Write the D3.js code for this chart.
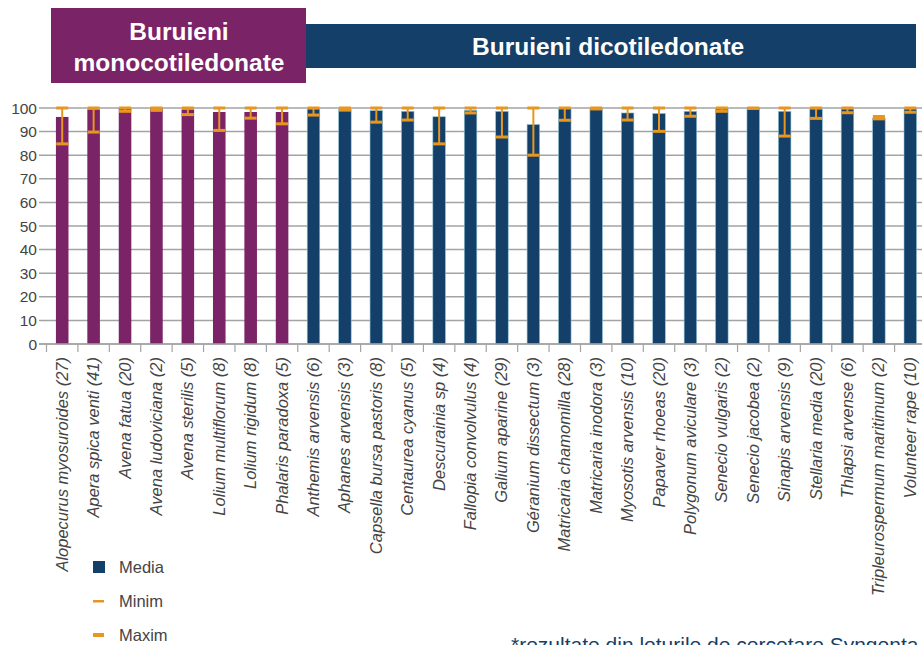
<!DOCTYPE html>
<html>
<head>
<meta charset="utf-8">
<script src="https://cdn.jsdelivr.net/npm/d3@7"></script>
<style>
  html, body { margin: 0; padding: 0; background: #fff; }
  svg { display: block; font-family: "Liberation Sans", Arial, sans-serif; }
</style>
</head>
<body>
<svg id="chart" width="922" height="645"></svg>
<script>
const species = [
  "Alopecurus myosuroides (27)", "Apera spica venti (41)", "Avena fatua (20)", "Avena ludoviciana (2)",
  "Avena sterilis (5)", "Lolium multiflorum (8)", "Lolium rigidum (8)", "Phalaris paradoxa (5)",
  "Anthemis arvensis (6)", "Aphanes arvensis (3)", "Capsella bursa pastoris (8)", "Centaurea cyanus (5)",
  "Descurainia sp (4)", "Fallopia convolvulus (4)", "Galium aparine (29)", "Géranium dissectum (3)",
  "Matricaria chamomilla (28)", "Matricaria inodora (3)", "Myosotis arvensis (10)", "Papaver rhoeas (20)",
  "Polygonum aviculare (3)", "Senecio vulgaris (2)", "Senecio jacobea (2)", "Sinapis arvensis (9)",
  "Stellaria media (20)", "Thlapsi arvense (6)", "Tripleurospermum maritimum (2)", "Volunteer rape (10)"
];
const monoCount = 8;
const media = [96.2, 99.4, 99.8, 99.8, 99.4, 98.3, 98.3, 98.3,
               99.6, 99.5, 98.9, 98.6, 96.3, 99.0, 98.6, 93.0,
               99.7, 99.6, 97.9, 97.7, 98.6, 99.6, 100, 98.6,
               99.6, 99.6, 95.7, 99.6];
const minim = [84.8, 89.8, 98.6, 99.0, 97.2, 90.5, 95.7, 93.3,
               97.0, 99.1, 94.0, 94.9, 84.8, 97.9, 87.7, 80.0,
               94.8, 99.6, 94.9, 90.1, 96.5, 98.6, 99.8, 88.1,
               95.6, 98.0, 95.4, 98.2];
const maxim = [100, 100, 100, 100, 100, 100, 100, 100,
               100, 100, 100, 100, 100, 100, 100, 100,
               100, 100, 100, 100, 100, 100, 100, 100,
               100, 100, 96.4, 100];
const yTicks = [0, 10, 20, 30, 40, 50, 60, 70, 80, 90, 100];
const legendItems = ["Media", "Minim", "Maxim"];

const PURPLE = "#7b2367";
const BLUE = "#143f69";
const ORANGE = "#e8961e";
const GRID = "#a3a3a3";
const TEXT = "#444";

const svg = d3.select("#chart");

const x = d3.scaleBand().domain(species).range([46.5, 926]).paddingInner(0.6).paddingOuter(0.3);
const y = d3.scaleLinear().domain([0, 100]).range([344, 108]);
const step = x.step();

// grid + y labels
const gy = svg.append("g");
gy.selectAll("line").data(yTicks).join("line")
  .attr("x1", 39).attr("x2", 922)
  .attr("y1", d => y(d)).attr("y2", d => y(d))
  .attr("stroke", GRID).attr("stroke-width", 1.5);
gy.selectAll("text").data(yTicks).join("text")
  .attr("x", 37).attr("y", d => y(d)).attr("dy", "0.36em")
  .attr("text-anchor", "end").attr("fill", TEXT).attr("font-size", 15.5)
  .text(d => d);

// x ticks at band boundaries
const bounds = species.map((s, i) => x(s) - x.paddingInner() * step / 2);
svg.append("g").selectAll("line").data(bounds).join("line")
  .attr("x1", d => d).attr("x2", d => d)
  .attr("y1", y(0)).attr("y2", y(0) + 8)
  .attr("stroke", GRID).attr("stroke-width", 1.2);

// bars
svg.append("g").selectAll("rect").data(species).join("rect")
  .attr("x", d => x(d)).attr("width", x.bandwidth())
  .attr("y", (d, i) => y(media[i])).attr("height", (d, i) => y(0) - y(media[i]))
  .attr("fill", (d, i) => i < monoCount ? PURPLE : BLUE)
  .attr("stroke", (d, i) => i < monoCount ? "none" : "#8fc3d6")
  .attr("stroke-width", 0.6);

// error bars
const eb = svg.append("g");
const cx = d => x(d) + x.bandwidth() / 2;
eb.selectAll("line.w").data(species).join("line").attr("class", "w")
  .attr("x1", cx).attr("x2", cx)
  .attr("y1", (d, i) => y(minim[i])).attr("y2", (d, i) => y(maxim[i]))
  .attr("stroke", ORANGE).attr("stroke-width", 2);
eb.selectAll("rect.mn").data(species).join("rect").attr("class", "mn")
  .attr("x", d => cx(d) - 6).attr("width", 12)
  .attr("y", (d, i) => y(minim[i]) - 1.5).attr("height", 3)
  .attr("fill", ORANGE);
eb.selectAll("rect.mx").data(species).join("rect").attr("class", "mx")
  .attr("x", d => cx(d) - 6).attr("width", 12)
  .attr("y", (d, i) => y(maxim[i]) - 1.5).attr("height", 3)
  .attr("fill", ORANGE);

// baseline
svg.append("line").attr("x1", 39).attr("x2", 922).attr("y1", y(0)).attr("y2", y(0))
  .attr("stroke", GRID).attr("stroke-width", 1.5);

// x labels
svg.append("g").selectAll("text").data(species).join("text")
  .attr("transform", d => `translate(${cx(d) + 5.5},${y(0) + 13}) rotate(-90)`)
  .attr("text-anchor", "end").attr("fill", TEXT).attr("font-size", 16.5)
  .attr("font-style", "italic")
  .text(d => d);

// headers
svg.append("rect").attr("x", 306).attr("y", 24).attr("width", 610).attr("height", 44).attr("fill", BLUE);
svg.append("text").attr("x", 472).attr("y", 55).attr("fill", "#fff")
  .attr("font-size", 24.5).attr("font-weight", "bold").text("Buruieni dicotiledonate");
svg.append("rect").attr("x", 51).attr("y", 8).attr("width", 255).attr("height", 75).attr("fill", PURPLE);
svg.append("text").attr("x", 179).attr("y", 40).attr("text-anchor", "middle").attr("fill", "#fff")
  .attr("font-size", 24.5).attr("font-weight", "bold").text("Buruieni");
svg.append("text").attr("x", 179).attr("y", 71).attr("text-anchor", "middle").attr("fill", "#fff")
  .attr("font-size", 24.5).attr("font-weight", "bold").text("monocotiledonate");

// legend
const lg = svg.append("g").attr("transform", "translate(93,567)");
legendItems.forEach((name, i) => {
  const g = lg.append("g").attr("transform", `translate(0,${i * 34})`);
  if (i === 0) g.append("rect").attr("x", 0).attr("y", -6).attr("width", 12).attr("height", 12).attr("fill", BLUE);
  else g.append("rect").attr("x", 0).attr("y", i === 1 ? -1 : -2).attr("width", 11).attr("height", i === 1 ? 2.5 : 4).attr("fill", ORANGE);
  g.append("text").attr("x", 26).attr("y", 0).attr("dy", "0.36em")
    .attr("fill", TEXT).attr("font-size", 16.5).text(name);
});

// footnote
svg.append("text").attr("x", 511).attr("y", 652).attr("fill", BLUE).attr("font-size", 21)
  .text("*rezultate din loturile de cercetare Syngenta");
</script>
</body>
</html>
